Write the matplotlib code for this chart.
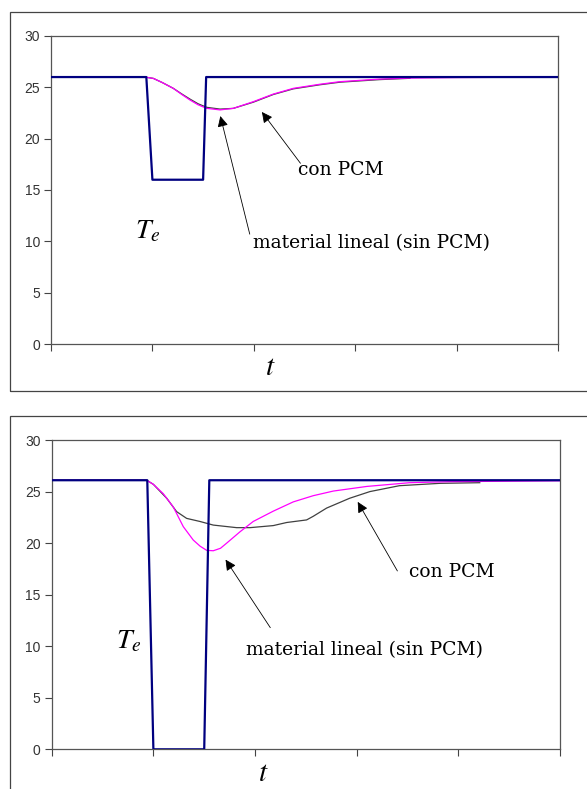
import matplotlib
matplotlib.use('Agg')
import matplotlib.pyplot as plt
from matplotlib.patches import Rectangle

# --- datos (t en unidades de categoria 0..5) ---
# grafica superior
t_te1 = [0, 0.94, 1.0, 1.5, 1.53, 5.0]
te1 = [26, 26, 16, 16, 26, 26]
t_sin1 = [0, 0.944, 1.009, 1.1, 1.206, 1.29, 1.371, 1.45, 1.536, 1.667, 1.798, 1.995,
          2.192, 2.39, 2.653, 2.85, 3.24, 3.54, 4.0, 4.4]
sin1 = [26, 25.97, 25.87, 25.45, 24.9, 24.3, 23.76, 23.3, 22.95, 22.8, 22.95, 23.6,
        24.34, 24.9, 25.3, 25.55, 25.8, 25.9, 25.95, 25.97]
t_con1 = [0, 0.944, 1.009, 1.1, 1.206, 1.29, 1.371, 1.45, 1.536, 1.667, 1.798, 1.995,
          2.192, 2.39, 2.653, 2.85, 3.24, 3.54]
con1 = [26, 25.97, 25.87, 25.45, 24.9, 24.35, 23.85, 23.4, 23.05, 22.88, 22.95, 23.55,
        24.3, 24.85, 25.25, 25.5, 25.75, 25.88]

# grafica inferior
t_te2 = [0, 0.94, 1.0, 1.5, 1.55, 5.0]
te2 = [26.1, 26.1, 0, 0, 26.1, 26.1]
t_sin2 = [0, 0.934, 1.0, 1.097, 1.196, 1.294, 1.392, 1.46, 1.524, 1.589, 1.66, 1.721,
          1.852, 1.982, 2.179, 2.376, 2.572, 2.77, 3.1, 3.52, 3.91, 4.41, 5.0]
sin2 = [26.1, 26.1, 25.7, 24.8, 23.5, 21.6, 20.3, 19.7, 19.3, 19.26, 19.5, 20.0,
        21.1, 22.1, 23.1, 24.0, 24.6, 25.05, 25.5, 25.86, 25.96, 26.0, 26.05]
t_con2 = [0, 0.934, 1.0, 1.131, 1.229, 1.327, 1.458, 1.589, 1.819, 1.95, 2.179, 2.311,
          2.507, 2.572, 2.704, 2.835, 2.93, 3.13, 3.42, 3.82, 4.21]
con2 = [26.1, 26.1, 25.7, 24.35, 23.05, 22.4, 22.1, 21.75, 21.5, 21.5, 21.7, 22.0,
        22.25, 22.6, 23.4, 23.95, 24.35, 25.0, 25.57, 25.8, 25.86]

yticks = [0, 5, 10, 15, 20, 25, 30]

# posiciones de anotaciones (datos)
notas = [
    {'con_txt': (2.44, 16.9), 'con_from': (2.46, 17.6), 'con_tip': (2.08, 22.6),
     'mat_txt': (1.99, 9.8), 'mat_from': (1.96, 10.7), 'mat_tip': (1.67, 22.2),
     'te': (0.83, 11.1), 't': (2.16, -2.2)},
    {'con_txt': (3.51, 17.2), 'con_from': (3.40, 17.3), 'con_tip': (3.01, 24.0),
     'mat_txt': (1.91, 9.6), 'mat_from': (2.15, 11.8), 'mat_tip': (1.71, 18.4),
     'te': (0.63, 10.6), 't': (2.08, -2.3)},
]

fig = plt.figure(figsize=(5.87, 7.89), dpi=100)

# marcos exteriores
fig.patches.append(Rectangle((0.017, 0.5044), 1.2, 0.4804, transform=fig.transFigure,
                             fill=False, edgecolor='#444444', linewidth=0.9))
fig.patches.append(Rectangle((0.017, -0.2), 1.2, 0.6728, transform=fig.transFigure,
                             fill=False, edgecolor='#444444', linewidth=0.9))

ax1 = fig.add_axes([0.0869, 0.564, 0.8637, 0.3904])
ax2 = fig.add_axes([0.0881, 0.0503, 0.866, 0.392])

datos = [(ax1, t_te1, te1, t_sin1, sin1, t_con1, con1),
         (ax2, t_te2, te2, t_sin2, sin2, t_con2, con2)]

for k, (ax, tt, te, ts, s, tc, c) in enumerate(datos):
    ax.plot(tc, c, color='#404040', lw=0.9, zorder=2)
    ax.plot(ts, s, color='#ff00ff', lw=0.9, zorder=3)
    ax.plot(tt, te, color='#000080', lw=1.6, zorder=4)

    ax.set_xlim(0, 5)
    ax.set_ylim(0, 30)
    ax.set_xticks(range(6))
    ax.set_xticklabels([])
    ax.set_yticks(yticks)
    ax.set_yticklabels([str(v) for v in yticks], fontsize=10, color='#333333',
                       family='Liberation Sans')
    ax.tick_params(direction='out', length=5, width=0.8, color='#444444', pad=3)
    for sp in ax.spines.values():
        sp.set_color('#555555')
        sp.set_linewidth(0.9)

    n = notas[k]
    ap = dict(arrowstyle='-|>', color='black', lw=0.6, mutation_scale=16,
              shrinkA=0, shrinkB=0)
    ax.annotate('', xy=n['con_tip'], xytext=n['con_from'], arrowprops=ap)
    ax.annotate('', xy=n['mat_tip'], xytext=n['mat_from'], arrowprops=ap)
    ax.text(n['con_txt'][0], n['con_txt'][1], 'con PCM', fontsize=13.5,
            family='DejaVu Serif', va='center', ha='left')
    ax.text(n['mat_txt'][0], n['mat_txt'][1], 'material lineal (sin PCM)', fontsize=13.5,
            family='DejaVu Serif', va='center', ha='left')
    ax.text(n['te'][0], n['te'][1], r'$T_e$', fontsize=20, va='center', ha='left',
            math_fontfamily='stix')
    ax.text(n['t'][0], n['t'][1], r'$t$', fontsize=21, va='center', ha='center',
            math_fontfamily='stix', clip_on=False)

fig.savefig('out.png', dpi=100)
